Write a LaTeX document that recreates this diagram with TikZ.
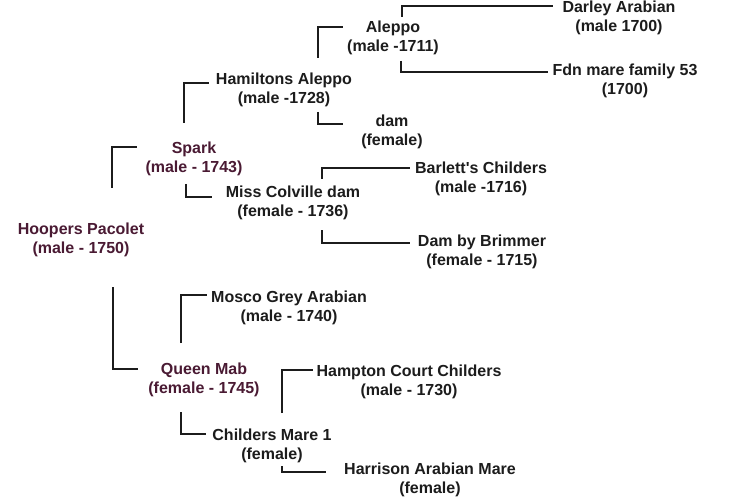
\documentclass[tikz,border=0pt]{standalone}
\usepackage{fontspec}
\setmainfont{Liberation Sans}
\usepackage{xcolor}
\usepackage{tikz}
\usetikzlibrary{calc}
\definecolor{horsegray}{HTML}{1C1C1C}
\definecolor{horsered}{HTML}{4A1A33}

\begin{document}
\begin{tikzpicture}[x=1pt,y=-1pt,
    horse/.style={align=center,inner sep=1pt,text=horsegray,
        font=\bfseries\fontsize{16}{19}\selectfont},
    mainhorse/.style={horse,text=horsered},
    link/.style={line width=2.2pt,horsegray}]
        \useasboundingbox[fill=white] (0,0) rectangle (750,500);
        % 绘制马匹
        \node[mainhorse] (hoopers) at (81,239.5) {Hoopers Pacolet\\(male - 1750)};
        \node[mainhorse] (spark) at (194,158.5) {Spark\\(male - 1743)};
        \node[mainhorse] (queenmab) at (204,379.5) {Queen Mab\\(female - 1745)};
        \node[horse] (hamiltons) at (284,89.5) {Hamiltons Aleppo\\(male -1728)};
        \node[horse] (colville) at (293,202.5) {Miss Colville dam\\(female - 1736)};
        \node[horse] (mosco) at (289,307.5) {Mosco Grey Arabian\\(male - 1740)};
        \node[horse] (childers) at (272,445.5) {Childers Mare 1\\(female)};
        \node[horse] (aleppo) at (393,38) {Aleppo\\(male -1711)};
        \node[horse] (dam) at (392,131.5) {dam\\(female)};
        \node[horse] (barlett) at (481,179) {Barlett\textquotesingle s Childers\\(male -1716)};
        \node[horse] (brimmer) at (482,252) {Dam by Brimmer\\(female - 1715)};
        \node[horse] (hampton) at (409,381.5) {Hampton Court Childers\\(male - 1730)};
        \node[horse] (harrison) at (430,479.5) {Harrison Arabian Mare\\(female)};
        \node[horse] (darley) at (619,17.5) {Darley Arabian\\(male 1700)};
        \node[horse] (fdn) at (625,80.5) {Fdn mare family 53\\(1700)};
        % 绘制连线
        \draw[link] ($(hoopers)+(31,-51.5)$) |- ($(spark)+(-57,-11.5)$);
        \draw[link] ($(hoopers)+(32,47.5)$) |- ($(queenmab)+(-66,-10.5)$);
        \draw[link] ($(spark)+(-10,-35.5)$) |- ($(hamiltons)+(-75,-6.5)$);
        \draw[link] ($(spark)+(-8,25.5)$) |- ($(colville)+(-81,-5.5)$);
        \draw[link] ($(hamiltons)+(34,-31.5)$) |- ($(aleppo)+(-50,-11)$);
        \draw[link] ($(hamiltons)+(34,22.5)$) |- ($(dam)+(-49,-7.5)$);
        \draw[link] ($(aleppo)+(9,-21)$) |- ($(darley)+(-66,-11.5)$);
        \draw[link] ($(aleppo)+(8,23)$) |- ($(fdn)+(-77,-8.5)$);
        \draw[link] ($(colville)+(29,-23.5)$) |- ($(barlett)+(-71,-11)$);
        \draw[link] ($(colville)+(29,27.5)$) |- ($(brimmer)+(-72,-9)$);
        \draw[link] ($(queenmab)+(-23,-36.5)$) |- ($(mosco)+(-82,-12.5)$);
        \draw[link] ($(queenmab)+(-23,32.5)$) |- ($(childers)+(-66,-11.5)$);
        \draw[link] ($(childers)+(10,-32.5)$) |- ($(hampton)+(-96,-11.5)$);
        \draw[link] ($(childers)+(10,20.5)$) |- ($(harrison)+(-104,-7.5)$);
    \end{tikzpicture}
\end{document}
